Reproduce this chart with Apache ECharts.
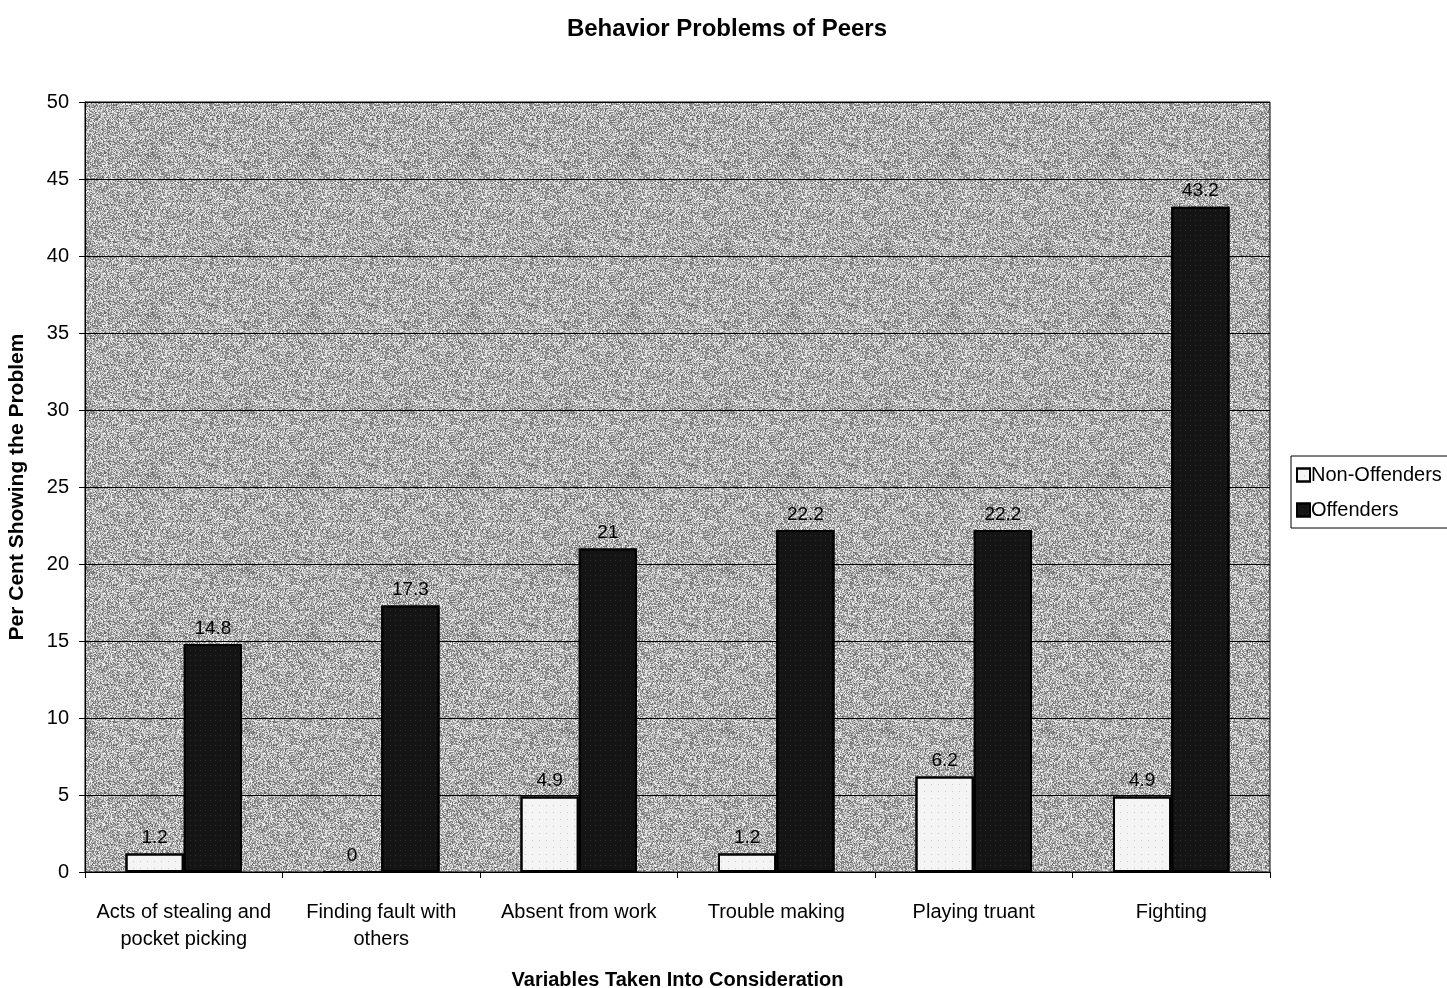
<!DOCTYPE html>
<html>
<head>
<meta charset="utf-8">
<script src="https://cdn.jsdelivr.net/npm/echarts@6/dist/echarts.min.js"></script>
<style>
  html, body { margin: 0; padding: 0; background: #fff; }
  #chart { width: 1447px; height: 988px; }
</style>
</head>
<body>
<div id="chart"></div>
<script>
const categories = [
  'Acts of stealing and\npocket picking',
  'Finding fault with\nothers',
  'Absent from work',
  'Trouble making',
  'Playing truant',
  'Fighting'
];
const nonOffenders = [1.2, 0, 4.9, 1.2, 6.2, 4.9];
const offenders = [14.8, 17.3, 21, 22.2, 22.2, 43.2];

const FONT = '"Liberation Sans", Arial, sans-serif';

// Grainy grey fill for the plot area (deterministic hash noise).
function makeGrain(size) {
  const c = document.createElement('canvas');
  c.width = size; c.height = size;
  const ctx = c.getContext('2d');
  const img = ctx.createImageData(size, size);
  let s = 12345;
  for (let i = 0; i < size * size; i++) {
    s = (s * 1103515245 + 12345) & 0x7fffffff;
    let v = 175 + ((s >> 8) % 150) - 75;
    v = Math.max(0, Math.min(255, v));
    img.data[i * 4] = v; img.data[i * 4 + 1] = v; img.data[i * 4 + 2] = v; img.data[i * 4 + 3] = 255;
  }
  ctx.putImageData(img, 0, 0);
  return c;
}
const grain = makeGrain(160);

const chart = echarts.init(document.getElementById('chart'));
chart.setOption({
  animation: false,
  backgroundColor: '#ffffff',
  title: {
    text: 'Behavior Problems of Peers',
    left: 722, top: 12, textAlign: 'center',
    textStyle: { fontFamily: FONT, fontSize: 24, fontWeight: 'bold', color: '#000' }
  },
  legend: {
    orient: 'vertical',
    left: 1291, top: 456,
    padding: [9, 8, 8, 5],
    itemGap: 15,
    itemWidth: 13, itemHeight: 13,
    borderColor: '#000', borderWidth: 1,
    icon: 'rect',
    textStyle: { fontFamily: FONT, fontSize: 20, color: '#000', padding: [0, 0, 0, -4] },
    data: ['Non-Offenders', 'Offenders']
  },
  grid: {
    left: 85, right: 177, top: 102, bottom: 116,
    outerBoundsMode: 'none',
    show: true, backgroundColor: { image: grain, repeat: 'repeat' },
    borderColor: '#000', borderWidth: 1
  },
  xAxis: {
    type: 'category',
    data: categories,
    name: 'Variables Taken Into Consideration',
    nameLocation: 'middle', nameGap: 98,
    nameTextStyle: { fontFamily: FONT, fontSize: 20, fontWeight: 'bold', color: '#000' },
    axisLine: { lineStyle: { color: '#000', width: 1 } },
    axisTick: { show: true, length: 6, lineStyle: { color: '#000' } },
    axisLabel: { interval: 0, fontFamily: FONT, fontSize: 20, color: '#000', margin: 27, lineHeight: 27 }
  },
  yAxis: {
    type: 'value',
    min: 0, max: 50, interval: 5,
    name: 'Per Cent Showing the Problem',
    nameLocation: 'middle', nameGap: 57, nameRotate: 90,
    nameTextStyle: { fontFamily: FONT, fontSize: 21, fontWeight: 'bold', color: '#000' },
    axisLine: { show: true, lineStyle: { color: '#000', width: 1 } },
    axisTick: { show: true, length: 6, lineStyle: { color: '#000' } },
    axisLabel: { fontFamily: FONT, fontSize: 20, color: '#000', margin: 16 },
    splitLine: { lineStyle: { color: '#000', width: 1 } }
  },
  series: [
    {
      name: 'Non-Offenders',
      type: 'bar',
      data: nonOffenders,
      barGap: '0%',
      barCategoryGap: '41%',
      itemStyle: {
        color: '#f4f4f4', borderColor: '#000', borderWidth: 2,
        decal: { symbol: 'rect', symbolSize: 0.4, color: '#222', dashArrayX: [1, 6], dashArrayY: [1, 6], rotation: 0 }
      },
      label: { show: true, position: 'top', distance: 6, fontFamily: FONT, fontSize: 19, color: '#000' }
    },
    {
      name: 'Offenders',
      type: 'bar',
      data: offenders,
      itemStyle: {
        color: '#141414', borderColor: '#000', borderWidth: 2,
        decal: { symbol: 'rect', symbolSize: 0.45, color: '#8a8a8a', dashArrayX: [1, 4], dashArrayY: [1, 4], rotation: 0 }
      },
      label: { show: true, position: 'top', distance: 6, fontFamily: FONT, fontSize: 19, color: '#000' }
    }
  ]
});
</script>
</body>
</html>
